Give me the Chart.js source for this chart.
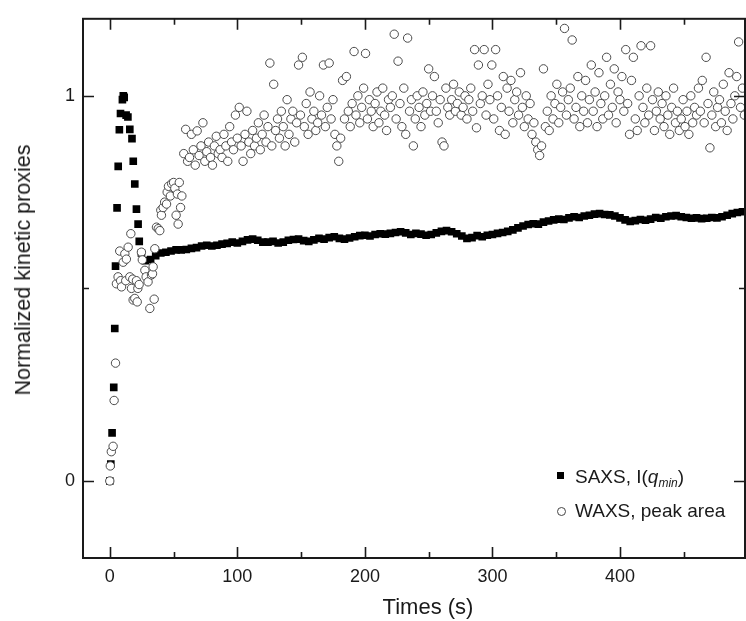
<!DOCTYPE html>
<html><head><meta charset="utf-8">
<script src="https://cdn.jsdelivr.net/npm/chart.js@4.4.0/dist/chart.umd.min.js"></script>
<style>
html,body{margin:0;padding:0;background:#fff;}
#wrap{position:relative;width:746px;height:621px;overflow:hidden;}
canvas{position:absolute;left:0;top:0;}
.lab{position:absolute;font-family:"Liberation Sans",Arial,Helvetica,sans-serif;color:#1a1a1a;white-space:nowrap;}
#ytitle{left:23px;top:270px;font-size:21.5px;line-height:22px;transform:translate(-50%,-50%) rotate(-90deg);}
#xtitle{left:428px;top:607px;font-size:22px;line-height:24px;transform:translate(-50%,-50%);}
.leg{font-size:19px;line-height:19px;}
#leg1{left:575px;top:467px;}
#leg2{left:575px;top:501px;}
.sub{font-size:12px;font-style:italic;position:relative;top:4px;}
#m1{position:absolute;left:557px;top:472px;width:7px;height:7px;background:#000;}
#m2{position:absolute;left:557px;top:507px;width:7px;height:7px;border:1px solid #444;border-radius:50%;background:#fff;}
</style></head><body>
<div id="wrap">
<canvas id="c" width="746" height="621"></canvas>
<div class="lab" id="ytitle">Normalized kinetic proxies</div>
<div class="lab" id="xtitle">Times (s)</div>
<div id="m1"></div><div class="lab leg" id="leg1">SAXS, I(<i>q</i><span class="sub">min</span>)</div>
<div id="m2"></div><div class="lab leg" id="leg2">WAXS, peak area</div>
</div>
<script>
// ---- data ----
const xTickLabels = [0, 100, 200, 300, 400];
const xMinorTicks = [50, 150, 250, 350, 450];
const yTickLabels = [0, 1];
const yMinorTicks = [0.5];

const saxsTime = [0, 0.8, 1.8, 3.1, 3.9, 4.5, 5.7, 6.6, 7.5, 8.4, 9.9, 10.6, 11.3, 12.8, 14.2, 15.7, 17.4, 18.4, 19.6, 20.9, 22.2, 23.1, 24.8,
 28, 32, 36, 40, 44, 48, 52, 56, 60, 64,
 68, 72, 76, 80, 84, 88, 92, 96, 100, 104,
 108, 112, 116, 120, 124, 128, 132, 136, 140, 144,
 148, 152, 156, 160, 164, 168, 172, 176, 180, 184,
 188, 192, 196, 200, 204, 208, 212, 216, 220, 224,
 228, 232, 236, 240, 244, 248, 252, 256, 260, 264,
 268, 272, 276, 280, 284, 288, 292, 296, 300, 304,
 308, 312, 316, 320, 324, 328, 332, 336, 340, 344,
 348, 352, 356, 360, 364, 368, 372, 376, 380, 384,
 388, 392, 396, 400, 404, 408, 412, 416, 420, 424,
 428, 432, 436, 440, 444, 448, 452, 456, 460, 464,
 468, 472, 476, 480, 484, 488, 492, 496];
const saxsValue = [0, 0.044, 0.125, 0.243, 0.396, 0.558, 0.709, 0.817, 0.912, 0.954, 0.99, 1.0, 0.996, 0.95, 0.945, 0.913, 0.889, 0.83, 0.771, 0.706, 0.667, 0.622, 0.592,
 0.572, 0.575, 0.585, 0.592, 0.594, 0.597, 0.6, 0.6, 0.601, 0.604,
 0.606, 0.61, 0.612, 0.61, 0.612, 0.615, 0.617, 0.62, 0.618, 0.622,
 0.626, 0.628, 0.625, 0.62, 0.62, 0.622, 0.618, 0.62, 0.625, 0.627,
 0.628, 0.624, 0.622, 0.626, 0.63, 0.628, 0.632, 0.634, 0.63, 0.628,
 0.631, 0.634, 0.637, 0.638, 0.636, 0.64, 0.642, 0.641, 0.643, 0.645,
 0.647, 0.644, 0.64, 0.643, 0.641, 0.638, 0.64, 0.644, 0.648, 0.65,
 0.647, 0.642, 0.636, 0.63, 0.632, 0.637, 0.634, 0.638, 0.64, 0.643,
 0.645, 0.648, 0.652, 0.657, 0.662, 0.666, 0.668, 0.667, 0.672, 0.675,
 0.678, 0.68, 0.679, 0.683, 0.686, 0.684, 0.688, 0.69, 0.693, 0.694,
 0.692, 0.691, 0.688, 0.683, 0.678, 0.674, 0.676, 0.679, 0.677, 0.68,
 0.684, 0.682, 0.686, 0.688, 0.689, 0.686, 0.684, 0.682, 0.683, 0.681,
 0.682, 0.684, 0.683, 0.686, 0.69, 0.694, 0.697, 0.699];

const waxsTime = [0, 0.4, 1.2, 2.6, 3.4, 4.5, 5.2, 6.5, 7.8, 8.5, 9.2, 10.5, 11.8, 12.5, 13, 14.4, 15.7, 16.5, 17, 18, 18.3,
 19.6, 20.9, 21.5, 22, 23, 24.8, 25.5, 27.5, 28.5, 30, 31.4, 32.7, 33.5, 34, 34.8, 35.3, 36.6, 38, 39.2, 40,
 40.5, 41.8, 43, 44.5, 45, 46, 47.5, 48.5, 50, 51, 52, 53, 53.6, 54.5, 55.5, 56.5,
 58, 59.5, 61, 62.5, 64, 65.5, 67, 68.5, 70, 71.5,
 73, 74.5, 76, 77.5, 79, 80.5, 82, 83.5, 85, 86.5,
 88, 89.5, 91, 92.5, 94, 95.5, 97, 98.5, 100, 101.5,
 103, 104.5, 106, 107.5, 109, 110.5, 112, 113.5, 115, 116.5,
 118, 119.5, 121, 122.5, 124, 125.5, 127, 128.5, 130, 131.5,
 133, 134.5, 136, 137.5, 139, 140.5, 142, 143.5, 145, 146.5,
 148, 149.5, 151, 152.5, 154, 155.5, 157, 158.5, 160, 161.5,
 163, 164.5, 166, 167.5, 169, 170.5, 172, 173.5, 175, 176.5,
 178, 179.5, 181, 182.5, 184, 185.5, 187, 188.5, 190, 191.5,
 193, 194.5, 196, 197.5, 199, 200.5, 202, 203.5, 205, 206.5,
 208, 209.5, 211, 212.5, 214, 215.5, 217, 218.5, 220, 221.5,
 223, 224.5, 226, 227.5, 229, 230.5, 232, 233.5, 235, 236.5,
 238, 239.5, 241, 242.5, 244, 245.5, 247, 248.5, 250, 251.5,
 253, 254.5, 256, 257.5, 259, 260.5, 262, 263.5, 265, 266.5,
 268, 269.5, 271, 272.5, 274, 275.5, 277, 278.5, 280, 281.5,
 283, 284.5, 286, 287.5, 289, 290.5, 292, 293.5, 295, 296.5,
 298, 299.5, 301, 302.5, 304, 305.5, 307, 308.5, 310, 311.5,
 313, 314.5, 316, 317.5, 319, 320.5, 322, 323.5, 325, 326.5,
 328, 329.5, 331, 332.5, 334, 335.5, 337, 338.5, 340, 341.5,
 343, 344.5, 346, 347.5, 349, 350.5, 352, 353.5, 355, 356.5,
 358, 359.5, 361, 362.5, 364, 365.5, 367, 368.5, 370, 371.5,
 373, 374.5, 376, 377.5, 379, 380.5, 382, 383.5, 385, 386.5,
 388, 389.5, 391, 392.5, 394, 395.5, 397, 398.5, 400, 401.5,
 403, 404.5, 406, 407.5, 409, 410.5, 412, 413.5, 415, 416.5,
 418, 419.5, 421, 422.5, 424, 425.5, 427, 428.5, 430, 431.5,
 433, 434.5, 436, 437.5, 439, 440.5, 442, 443.5, 445, 446.5,
 448, 449.5, 451, 452.5, 454, 455.5, 457, 458.5, 460, 461.5,
 463, 464.5, 466, 467.5, 469, 470.5, 472, 473.5, 475, 476.5,
 478, 479.5, 481, 482.5, 484, 485.5, 487, 488.5, 490, 491.5,
 493, 494.5, 496, 497.5];
const waxsValue = [0, 0.039, 0.076, 0.09, 0.209, 0.306, 0.512, 0.53, 0.597, 0.52, 0.504, 0.568, 0.59, 0.52, 0.576, 0.607, 0.53, 0.642, 0.5, 0.524, 0.47,
 0.474, 0.52, 0.465, 0.5, 0.51, 0.594, 0.574, 0.547, 0.53, 0.517, 0.448, 0.535, 0.538, 0.556, 0.472, 0.603, 0.659, 0.655, 0.65, 0.703,
 0.69, 0.71, 0.724, 0.719, 0.75, 0.765, 0.74, 0.772, 0.775, 0.76, 0.69, 0.745, 0.667, 0.775, 0.71, 0.74,
 0.85, 0.913, 0.83, 0.84, 0.9, 0.86, 0.82, 0.909, 0.845, 0.87,
 0.93, 0.83, 0.855, 0.88, 0.84, 0.82, 0.87, 0.895, 0.85, 0.86,
 0.84, 0.9, 0.87, 0.83, 0.92, 0.88, 0.86, 0.95, 0.89, 0.97,
 0.87, 0.83, 0.9, 0.96, 0.88, 0.85, 0.91, 0.87, 0.89, 0.93,
 0.86, 0.9, 0.95, 0.88, 0.92, 1.085, 0.87, 1.03, 0.91, 0.94,
 0.89, 0.96, 0.92, 0.87, 0.99, 0.9, 0.94, 0.96, 0.88, 0.93,
 1.08, 0.95, 1.1, 0.92, 0.98, 0.9, 1.01, 0.94, 0.96, 0.91,
 0.93, 1.0, 0.95, 1.08, 0.92, 0.97, 1.085, 0.94, 0.99, 0.9,
 0.87, 0.83, 0.89, 1.04, 0.94, 1.05, 0.96, 0.92, 0.98, 1.115,
 0.95, 1.0, 0.93, 0.97, 1.02, 1.11, 0.94, 0.99, 0.96, 0.92,
 0.98, 1.01, 0.93, 0.96, 1.02, 0.95, 0.91, 0.99, 0.97, 1.0,
 1.16, 0.94, 1.09, 0.98, 0.92, 1.02, 0.9, 1.15, 0.96, 0.99,
 0.87, 0.94, 1.0, 0.97, 0.92, 1.01, 0.95, 0.98, 1.07, 0.96,
 1.0, 1.05, 0.96, 0.93, 0.99, 0.88, 0.87, 1.02, 0.97, 0.95,
 0.99, 1.03, 0.96, 0.98, 1.01, 0.95, 0.97, 1.0, 0.94, 0.99,
 1.02, 0.96, 1.12, 0.917, 1.08, 0.98, 1.0, 1.12, 0.95, 1.03,
 0.99, 1.08, 0.94, 1.12, 1.0, 0.91, 0.97, 1.05, 0.9, 1.02,
 0.96, 1.04, 0.93, 0.99, 1.01, 0.95, 1.06, 0.97, 0.92, 1.0,
 0.94, 0.98, 0.9, 0.93, 0.88, 0.86, 0.845, 0.87, 1.07, 0.92,
 0.96, 0.91, 1.0, 0.94, 0.98, 1.03, 0.93, 0.97, 1.01, 1.175,
 0.95, 0.99, 1.02, 1.145, 0.94, 0.97, 1.05, 0.92, 1.0, 0.96,
 1.04, 0.93, 0.99, 1.08, 0.96, 1.01, 0.92, 1.06, 0.98, 0.94,
 1.0, 1.1, 0.95, 1.03, 0.97, 1.07, 0.93, 1.01, 0.99, 1.05,
 0.96, 1.12, 0.98, 0.9, 1.04, 1.1, 0.94, 0.91, 1.0, 1.13,
 0.97, 0.93, 1.02, 0.95, 1.13, 0.99, 0.91, 0.96, 1.01, 0.94,
 0.98, 0.92, 1.0, 0.95, 0.9, 0.97, 1.02, 0.93, 0.96, 0.91,
 0.94, 0.99, 0.92, 0.96, 0.9, 1.0, 0.93, 0.97, 0.95, 1.02,
 0.96, 1.04, 0.93, 1.1, 0.98, 0.865, 0.95, 1.01, 0.92, 0.97,
 0.99, 0.93, 1.03, 0.96, 0.91, 1.06, 0.98, 0.94, 1.0, 1.05,
 1.14, 0.97, 1.02, 0.95];

// ---- chart ----
const FONT = '"Liberation Sans", Arial, Helvetica, sans-serif';
const INK = '#1a1a1a';

const framePlugin = {
  id: 'frame',
  afterDraw(chart) {
    const {ctx, chartArea: a, scales: {x, y}} = chart;
    ctx.save();
    ctx.strokeStyle = INK;
    ctx.lineWidth = 2;
    ctx.strokeRect(a.left, a.top, a.right - a.left, a.bottom - a.top);
    ctx.lineWidth = 1.6;
    ctx.beginPath();
    const xt = (vals, len) => vals.forEach(v => {
      const px = Math.round(x.getPixelForValue(v)) + 0.5;
      if (px < a.left || px > a.right) return;
      ctx.moveTo(px, a.bottom); ctx.lineTo(px, a.bottom - len);
      ctx.moveTo(px, a.top); ctx.lineTo(px, a.top + len);
    });
    const yt = (vals, len) => vals.forEach(v => {
      const py = Math.round(y.getPixelForValue(v)) + 0.5;
      ctx.moveTo(a.left, py); ctx.lineTo(a.left + len, py);
      ctx.moveTo(a.right, py); ctx.lineTo(a.right - len, py);
    });
    xt(xTickLabels, 11); xt(xMinorTicks, 6);
    yt(yTickLabels, 11); yt(yMinorTicks, 6);
    ctx.stroke();
    ctx.restore();
  }
};

new Chart(document.getElementById('c'), {
  type: 'scatter',
  data: {
    datasets: [
      {
        label: 'WAXS, peak area',
        data: waxsTime.map((t, i) => ({x: t, y: waxsValue[i]})),
        pointStyle: 'circle',
        pointRadius: 4.2,
        borderWidth: 1,
        borderColor: '#4a4a4a',
        backgroundColor: '#ffffff'
      },
      {
        label: 'SAXS, I(q_min)',
        data: saxsTime.map((t, i) => ({x: t, y: saxsValue[i]})),
        pointStyle: 'rect',
        pointRadius: 5.4,
        borderWidth: 0,
        backgroundColor: '#000000'
      }
    ]
  },
  options: {
    responsive: false,
    animation: false,
    events: [],
    layout: {autoPadding: false, padding: {left: 0, right: 1, top: 16, bottom: 0}},
    plugins: {legend: {display: false}, tooltip: {enabled: false}},
    scales: {
      x: {
        type: 'linear', min: -21, max: 498,
        afterBuildTicks: s => { s.ticks = xTickLabels.map(v => ({value: v})); },
        afterFit: s => { s.height = 63; },
        grid: {display: false, drawTicks: false},
        border: {display: false},
        ticks: {font: {family: FONT, size: 18}, color: INK, padding: 8, maxRotation: 0, autoSkip: false}
      },
      y: {
        type: 'linear', min: -0.2, max: 1.2,
        afterBuildTicks: s => { s.ticks = yTickLabels.map(v => ({value: v})); },
        afterFit: s => { s.width = 83; },
        grid: {display: false, drawTicks: false},
        border: {display: false},
        ticks: {font: {family: FONT, size: 18}, color: INK, padding: 8}
      }
    }
  },
  plugins: [framePlugin]
});
</script>
</body></html>
